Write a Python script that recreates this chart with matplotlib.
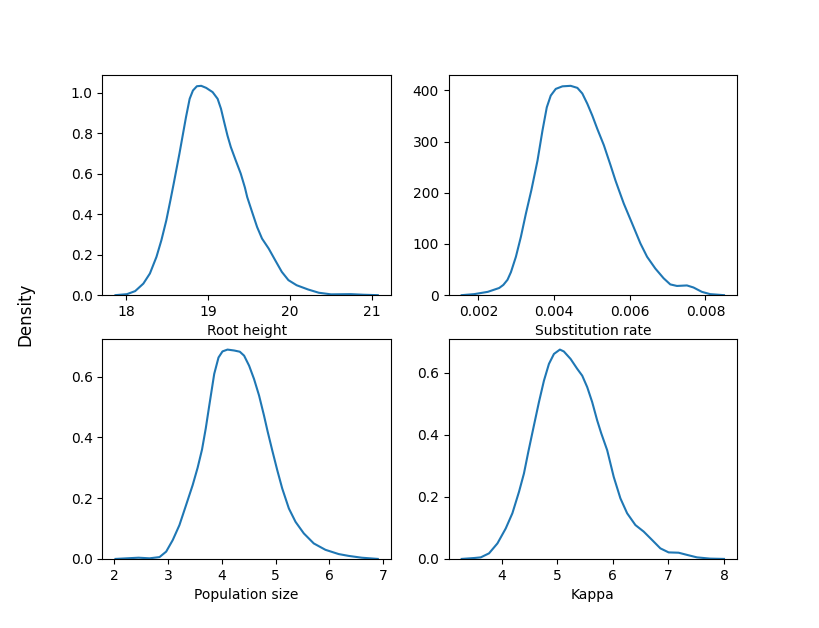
import numpy as np
from matplotlib import pyplot as plt

#KDE curves (denser around the bends)
rootHeightX = [17.87, 18.01, 18.11, 18.21, 18.29, 18.37, 18.43, 18.49, 18.54, 18.58, 18.65, 18.73, 18.775,
               18.815, 18.863, 18.916, 18.976, 19.055, 19.116, 19.157, 19.196, 19.236, 19.277, 19.337, 19.398,
               19.449, 19.477, 19.537, 19.598, 19.658, 19.739, 19.819, 19.899, 19.98, 20.08, 20.22, 20.35,
               20.50, 20.74, 20.90, 21.07]
rootHeightY = [0.0, 0.005, 0.02, 0.057, 0.107, 0.189, 0.271, 0.369, 0.468, 0.55, 0.698, 0.878, 0.969,
               1.010, 1.031, 1.033, 1.023, 1.002, 0.969, 0.920, 0.854, 0.788, 0.731, 0.665, 0.600,
               0.531, 0.484, 0.41, 0.336, 0.279, 0.230, 0.172, 0.115, 0.074, 0.049, 0.028, 0.012,
               0.004, 0.005, 0.002, 0.0]

rateX = [0.00156, 0.00189, 0.00225, 0.00255, 0.00266, 0.00277, 0.002861, 0.002992, 0.003124, 0.003255, 0.0034,
         0.003563, 0.003695, 0.003808, 0.003913, 0.004045, 0.004221, 0.004439, 0.004616, 0.004747, 0.004879,
         0.00501, 0.005142, 0.005316, 0.005492, 0.005623, 0.00571, 0.005842, 0.006063, 0.006282, 0.006458,
         0.006676, 0.006895, 0.007071, 0.007247, 0.007511, 0.007684, 0.007905, 0.008124, 0.00849]
rateY = [0, 2, 6.5, 14, 20, 30, 45, 75, 114, 159, 205,
         263, 322, 367, 390, 403, 408, 409, 405, 394, 374,
         351, 325, 293, 254, 224, 206, 179, 140, 101, 75,
         52, 33, 21, 18, 19, 15, 6.5, 2, 0]

popSizeX = [2.02, 2.23, 2.45, 2.654, 2.839, 2.963, 3.085, 3.209, 3.333, 3.456, 3.548, 3.630, 3.70, 3.765,
            3.857, 3.937, 4.011, 4.104, 4.228, 4.333, 4.413, 4.506, 4.598, 4.691, 4.783, 4.85, 4.937, 5.03,
            5.122, 5.246, 5.37, 5.524, 5.709, 5.926, 6.172, 6.357, 6.60, 6.90]
popSizeY = [0.0, 0.002, 0.004, 0.002, 0.006, 0.024, 0.062, 0.111, 0.177, 0.243, 0.30, 0.36, 0.43, 0.505,
            0.609, 0.663, 0.683, 0.689, 0.686, 0.682, 0.669, 0.636, 0.592, 0.538, 0.472, 0.42, 0.357, 0.292,
            0.232, 0.166, 0.122, 0.084, 0.051, 0.030, 0.016, 0.010, 0.004, 0.0]

kappaX = [3.28, 3.51, 3.623, 3.772, 3.923, 4.072, 4.192, 4.311, 4.40, 4.479, 4.58, 4.67, 4.76, 4.85, 4.94,
          5.047, 5.118, 5.239, 5.359, 5.449, 5.539, 5.628, 5.718, 5.79, 5.898, 6.016, 6.136, 6.257, 6.406,
          6.555, 6.706, 6.855, 7.004, 7.183, 7.334, 7.513, 7.75, 8.0]
kappaY = [0.0, 0.003, 0.005, 0.018, 0.05, 0.098, 0.147, 0.216, 0.275, 0.345, 0.43, 0.505, 0.574, 0.628, 0.66,
          0.674, 0.668, 0.644, 0.612, 0.59, 0.553, 0.505, 0.446, 0.405, 0.35, 0.264, 0.195, 0.147, 0.109,
          0.088, 0.061, 0.034, 0.021, 0.020, 0.013, 0.005, 0.001, 0.0]

panelLabels = ['Root height', 'Substitution rate', 'Population size', 'Kappa']

fig, axs = plt.subplots(2, 2, figsize=(8.19, 6.28), dpi=100)

curves = [(rootHeightX, rootHeightY), (rateX, rateY), (popSizeX, popSizeY), (kappaX, kappaY)]
for ax, (xs, ys), label in zip(axs.flat, curves, panelLabels):
    ax.plot(xs, ys, color='#1f77b4', linewidth=1.5)
    ax.set_ylim(bottom=0)
    ax.set_xlabel(label)

fig.supylabel('Density')

plt.savefig('out.png', dpi=100)
